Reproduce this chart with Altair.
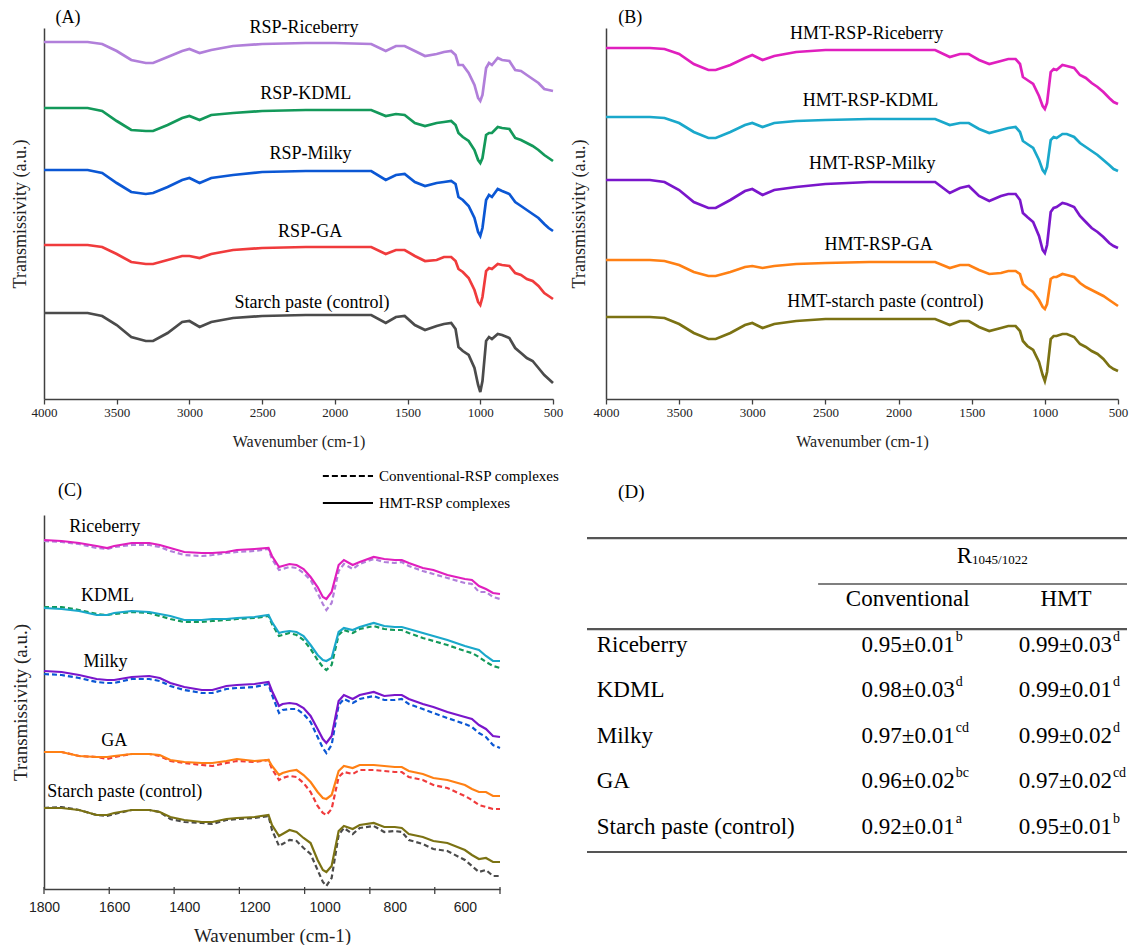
import altair as alt
import pandas as pd

SERIF = "Liberation Serif"
SANS = "Liberation Sans"

# ---------------- Panels A and B : full-range FTIR spectra ----------------
wn_full = [4000, 3700, 3600, 3500, 3400, 3300, 3250, 3150, 3050, 3000, 2930, 2850, 2700, 2500, 2200, 2000,
           1750, 1650, 1580, 1520, 1450, 1380, 1300, 1250, 1200, 1170, 1150, 1120, 1080, 1040, 1015, 1000,
           985, 960, 940, 920, 880, 850, 800, 760, 720, 680, 640, 600, 560, 530, 500]
full_ticks = [4000, 3500, 3000, 2500, 2000, 1500, 1000, 500]

# depth of each spectrum below its own starting level (a.u.)
a_riceberry = [0, 0, 2, 9, 18, 21, 21, 15, 9, 7, 11, 8, 4, 2, 1, 1,
               2, 9, 4, 4, 9, 14, 12, 10, 9, 13, 23, 23, 31, 43, 56, 59,
               53, 26, 21, 23, 16, 18, 19, 28, 29, 33, 37, 41, 47, 48, 49]
a_kdml = [0, 0, 3, 13, 22, 23, 23, 17, 10, 8, 12, 7, 5, 3, 2, 2,
          2, 8, 6, 7, 15, 18, 15, 14, 13, 17, 25, 29, 33, 42, 52, 55,
          50, 27, 25, 25, 19, 20, 21, 30, 32, 35, 38, 42, 47, 50, 53]
a_milky = [0, 0, 3, 13, 22, 24, 23, 17, 10, 8, 13, 8, 5, 2, 1, 1,
           1, 10, 5, 4, 12, 16, 13, 12, 11, 14, 27, 30, 36, 48, 62, 66,
           58, 30, 25, 27, 19, 21, 24, 32, 36, 40, 44, 48, 54, 58, 61]
a_ga = [0, 0, 2, 9, 17, 19, 19, 15, 11, 11, 13, 9, 5, 3, 2, 2,
        2, 9, 5, 5, 11, 16, 15, 12, 12, 16, 24, 27, 33, 45, 57, 60,
        52, 26, 23, 24, 19, 20, 21, 28, 30, 34, 36, 41, 48, 51, 54]
a_control = [0, 0, 3, 12, 24, 28, 28, 20, 9, 8, 14, 9, 5, 3, 2, 2,
             2, 10, 4, 3, 12, 17, 13, 11, 10, 16, 34, 38, 42, 55, 72, 79,
             68, 28, 24, 26, 21, 22, 25, 35, 40, 45, 48, 55, 62, 66, 70]

b_riceberry = [0, 0, 1, 6, 16, 22, 22, 17, 10, 7, 12, 8, 4, 2, 2, 2,
               2, 9, 6, 6, 12, 16, 13, 11, 11, 16, 29, 32, 36, 48, 58, 61,
               55, 24, 21, 22, 17, 18, 20, 27, 30, 35, 39, 44, 50, 54, 56]
b_kdml = [0, 0, 1, 6, 15, 21, 21, 15, 8, 6, 10, 6, 4, 3, 2, 2,
          2, 8, 6, 6, 12, 16, 13, 11, 10, 15, 24, 27, 31, 43, 53, 56,
          50, 23, 20, 21, 17, 17, 20, 26, 30, 34, 38, 43, 48, 52, 54]
b_milky = [0, 0, 2, 10, 22, 28, 28, 20, 11, 9, 15, 10, 7, 4, 2, 2,
           2, 13, 8, 6, 16, 21, 16, 14, 14, 20, 33, 37, 42, 56, 70, 73,
           65, 32, 28, 27, 23, 24, 27, 36, 42, 48, 52, 57, 63, 66, 68]
b_ga = [0, 0, 1, 5, 12, 16, 16, 12, 7, 6, 8, 6, 4, 3, 2, 2,
        2, 8, 5, 5, 10, 14, 13, 11, 11, 14, 24, 28, 32, 40, 47, 49,
        44, 19, 17, 17, 14, 15, 17, 23, 27, 30, 33, 36, 40, 43, 46]
b_control = [0, 0, 1, 7, 16, 22, 22, 16, 8, 6, 11, 7, 4, 2, 2, 2,
             2, 8, 4, 4, 10, 14, 11, 9, 9, 14, 24, 29, 33, 45, 58, 64,
             55, 22, 19, 19, 17, 17, 20, 27, 30, 34, 37, 42, 49, 52, 54]

a_names = ["RSP-Riceberry", "RSP-KDML", "RSP-Milky", "RSP-GA", "Starch paste (control)"]
a_offsets = [357, 291, 229, 154, 86]
a_colors = ["#B17FDA", "#13995A", "#0B57D4", "#F03B3C", "#4B4B4B"]
a_label_wn = [2212, 2200, 2167, 2170, 2157]
a_label_h = [371, 305, 245, 167, 96]

b_names = ["HMT-RSP-Riceberry", "HMT-RSP-KDML", "HMT-RSP-Milky", "HMT-RSP-GA", "HMT-starch paste (control)"]
b_offsets = [351, 282, 219, 139, 82]
b_colors = ["#E01FBE", "#1AA8CB", "#7A16CB", "#FF8014", "#7B7213"]
b_label_wn = [2218, 2192, 2180, 2136, 2090]
b_label_h = [365, 298, 235, 154, 97]

# panel tags (A)/(B) in data units of their panels
tag_full_wn = 3835
tag_full_h = 381

# ---------------- Panel C : fingerprint region ----------------
wn_zoom = [1800, 1750, 1700, 1650, 1620, 1600, 1550, 1500, 1470, 1440,
           1400, 1350, 1320, 1280, 1250, 1200, 1160, 1150, 1130, 1120,
           1100, 1080, 1060, 1040, 1020, 1005, 995, 980, 960, 945,
           920, 900, 860, 830, 800, 780, 760, 720, 690, 650,
           600, 580, 560, 540, 520, 500]
zoom_tick_labels = [1800, 1600, 1400, 1200, 1000, 800, 600]
zoom_tick_marks = [1800, 1614, 1429, 1243, 1057, 871, 686, 500]

c_samples = ["Riceberry", "KDML", "Milky", "GA", "Starch paste (control)"]
c_offsets = [349, 281, 218, 137, 81]
c_hmt = [
    [0, 1, 3, 6, 8, 6, 3, 3, 5, 8, 12, 13, 13, 12, 10, 9, 8, 16, 27, 26,
     24, 25, 29, 37, 47, 57, 59, 52, 25, 20, 25, 22, 17, 19, 20, 20, 23, 28, 30, 35,
     39, 40, 46, 49, 53, 54],
    [0, 1, 3, 7, 7, 5, 3, 4, 6, 8, 12, 12, 11, 11, 10, 9, 7, 14, 25, 24,
     23, 24, 28, 37, 47, 52, 53, 50, 24, 20, 22, 19, 15, 18, 19, 19, 21, 25, 28, 32,
     38, 40, 42, 48, 53, 53],
    [0, 1, 4, 8, 9, 9, 6, 5, 7, 12, 16, 19, 19, 15, 14, 13, 11, 20, 35, 33,
     32, 33, 37, 45, 58, 68, 72, 65, 30, 24, 28, 24, 21, 25, 24, 24, 28, 33, 36, 41,
     46, 48, 54, 58, 65, 66],
    [0, 0, 4, 5, 5, 4, 2, 2, 3, 8, 10, 11, 11, 9, 7, 9, 8, 14, 23, 21,
     19, 18, 23, 30, 40, 46, 47, 43, 19, 14, 16, 13, 13, 14, 15, 15, 19, 22, 26, 28,
     33, 37, 40, 40, 44, 44],
    [0, 0, 2, 7, 7, 5, 2, 2, 4, 9, 12, 14, 14, 11, 10, 9, 7, 17, 28, 26,
     22, 24, 30, 35, 52, 62, 64, 58, 23, 18, 21, 17, 15, 19, 19, 20, 26, 29, 33, 35,
     42, 47, 51, 50, 54, 54],
]
c_conv = [
    [1, 2, 4, 8, 9, 7, 5, 5, 7, 11, 15, 16, 15, 13, 12, 11, 9, 19, 30, 29,
     27, 28, 33, 40, 53, 64, 70, 63, 31, 24, 29, 24, 19, 22, 23, 22, 26, 31, 34, 38,
     43, 44, 52, 52, 57, 59],
    [-1, -1, 2, 6, 7, 6, 4, 5, 8, 11, 14, 14, 13, 12, 11, 10, 8, 16, 28, 27,
     25, 27, 32, 41, 52, 59, 62, 57, 27, 22, 25, 21, 18, 21, 22, 22, 25, 30, 33, 37,
     43, 45, 49, 54, 58, 60],
    [3, 4, 7, 11, 12, 12, 8, 8, 10, 15, 19, 22, 22, 18, 17, 16, 13, 24, 42, 39,
     38, 38, 43, 51, 66, 77, 82, 74, 34, 28, 32, 28, 25, 29, 29, 28, 33, 38, 42, 47,
     53, 56, 62, 66, 74, 77],
    [0, 0, 4, 5, 7, 5, 2, 2, 4, 9, 11, 13, 14, 11, 9, 10, 8, 17, 28, 26,
     24, 25, 31, 40, 54, 61, 63, 57, 25, 20, 22, 18, 18, 19, 20, 20, 25, 28, 33, 36,
     44, 48, 53, 55, 57, 57],
    [0, -1, 2, 7, 8, 6, 2, 2, 4, 11, 14, 15, 16, 12, 11, 10, 8, 22, 38, 36,
     32, 33, 40, 46, 62, 74, 78, 70, 27, 20, 26, 20, 18, 24, 23, 24, 32, 36, 41, 43,
     52, 58, 64, 62, 68, 68],
]
c_label_wn = [1627, 1619, 1625, 1600, 1570]
c_label_h = [362, 293, 227, 148, 97]
tag_c_wn = 1726
tag_c_h = 398

legend_labels = ["Conventional-RSP complexes", "HMT-RSP complexes"]
legend_dash = [[6, 3], [1, 0]]
legend_wn_start = [1005, 1005]
legend_wn_end = [862, 862]
legend_text_wn = [845, 845]
legend_h = [413, 386]

# ---------------- Panel D : R1045/1022 table ----------------
samples = ["Riceberry", "KDML", "Milky", "GA", "Starch paste (control)"]
conv_vals = ["0.95±0.01", "0.98±0.03", "0.97±0.01", "0.96±0.02", "0.92±0.01"]
conv_sup = ["b", "d", "cd", "bc", "a"]
hmt_vals = ["0.99±0.03", "0.99±0.01", "0.99±0.02", "0.97±0.02", "0.95±0.01"]
hmt_sup = ["d", "d", "d", "cd", "b"]


def spectra_frame(wn, names, offsets, colors, depth_lists):
    recs = []
    for name, off, col, depths in zip(names, offsets, colors, depth_lists):
        for w, d in zip(wn, depths):
            recs.append({"wn": w, "y": off - d, "series": name, "col": col})
    return pd.DataFrame(recs)


def full_panel(df, lab_names, lab_wn, lab_h, tag, width, height, tpad):
    xs = alt.Scale(domain=[500, 4000], reverse=True, nice=False, zero=False)
    ys = alt.Scale(domain=[0, height], nice=False, zero=False)
    xax = alt.Axis(values=full_ticks, format="d", title="Wavenumber (cm-1)", labelFont=SERIF,
                   labelFontSize=13, titleFont=SERIF, titleFontSize=16, tickSize=5, labelPadding=2,
                   titlePadding=14, labelFlush=False)
    yax = alt.Axis(title="Transmissivity (a.u.)", labels=False, ticks=False, titleFont=SERIF,
                   titleFontSize=18, titlePadding=tpad)
    lines = alt.Chart(df).mark_line(strokeWidth=2.7).encode(
        x=alt.X("wn:Q", scale=xs, axis=xax),
        y=alt.Y("y:Q", scale=ys, axis=yax),
        detail="series:N",
        color=alt.Color("col:N", scale=None),
    )
    lab_df = pd.DataFrame({"label": lab_names, "wn": lab_wn, "y": lab_h})
    text = alt.Chart(lab_df).mark_text(font=SERIF, fontSize=18, color="black", baseline="middle").encode(
        x=alt.X("wn:Q", scale=xs), y=alt.Y("y:Q", scale=ys), text="label:N")
    tag_df = pd.DataFrame({"label": [tag], "wn": [tag_full_wn], "y": [tag_full_h]})
    tag_text = alt.Chart(tag_df).mark_text(font=SERIF, fontSize=18, color="black", baseline="middle").encode(
        x=alt.X("wn:Q", scale=xs), y=alt.Y("y:Q", scale=ys), text="label:N")
    return alt.layer(lines, text, tag_text).properties(width=width, height=height)


df_a = spectra_frame(wn_full, a_names, a_offsets, a_colors, [a_riceberry, a_kdml, a_milky, a_ga, a_control])
df_b = spectra_frame(wn_full, b_names, b_offsets, b_colors, [b_riceberry, b_kdml, b_milky, b_ga, b_control])

panel_a = full_panel(df_a, a_names, a_label_wn, a_label_h, "(A)", 509, 371, 15)
panel_b = full_panel(df_b, b_names, b_label_wn, b_label_h, "(B)", 512, 371, 18)

# ---- panel C
C_W, C_H = 456, 374
conv_names = [s + " conventional" for s in c_samples]
hmt_names = [s + " HMT" for s in c_samples]
df_c_conv = spectra_frame(wn_zoom, conv_names, c_offsets, a_colors, c_conv)
df_c_hmt = spectra_frame(wn_zoom, hmt_names, c_offsets, b_colors, c_hmt)
xs_c = alt.Scale(domain=[500, 1800], reverse=True, nice=False, zero=False)
ys_c = alt.Scale(domain=[0, C_H], nice=False, zero=False)
xax_c = alt.Axis(values=zoom_tick_labels, format="d", ticks=False, labelFont=SANS, labelFontSize=14,
                 labelPadding=11, title="Wavenumber (cm-1)", titleFont=SERIF, titleFontSize=19,
                 titlePadding=12, labelFlush=False)
yax_c = alt.Axis(title="Transmissivity (a.u.)", labels=False, ticks=False, titleFont=SERIF,
                 titleFontSize=19, titlePadding=14)

c_conv_layer = alt.Chart(df_c_conv).mark_line(strokeWidth=2.2, strokeDash=[5, 3]).encode(
    x=alt.X("wn:Q", scale=xs_c, axis=xax_c), y=alt.Y("y:Q", scale=ys_c, axis=yax_c),
    detail="series:N", color=alt.Color("col:N", scale=None))
c_hmt_layer = alt.Chart(df_c_hmt).mark_line(strokeWidth=2.2).encode(
    x=alt.X("wn:Q", scale=xs_c), y=alt.Y("y:Q", scale=ys_c),
    detail="series:N", color=alt.Color("col:N", scale=None))
c_ticks = alt.Chart(pd.DataFrame({"wn": zoom_tick_marks})).mark_rule(color="#404040", strokeWidth=1.3).encode(
    x=alt.X("wn:Q", scale=xs_c), y=alt.value(C_H - 2), y2=alt.value(C_H + 5))
c_lab = alt.Chart(pd.DataFrame({"label": c_samples, "wn": c_label_wn, "y": c_label_h})).mark_text(
    font=SERIF, fontSize=18, color="black", baseline="middle").encode(
    x=alt.X("wn:Q", scale=xs_c), y=alt.Y("y:Q", scale=ys_c), text="label:N")
c_tag = alt.Chart(pd.DataFrame({"label": ["(C)"], "wn": [tag_c_wn], "y": [tag_c_h]})).mark_text(
    font=SERIF, fontSize=18, color="black", baseline="middle").encode(
    x=alt.X("wn:Q", scale=xs_c), y=alt.Y("y:Q", scale=ys_c), text="label:N")
leg_df = pd.DataFrame({"label": legend_labels, "x1": legend_wn_start, "x2": legend_wn_end,
                       "tx": legend_text_wn, "y": legend_h})
c_leg_lines = alt.Chart(leg_df).mark_rule(color="black", strokeWidth=1.8).encode(
    x=alt.X("x1:Q", scale=xs_c), x2="x2:Q", y=alt.Y("y:Q", scale=ys_c),
    strokeDash=alt.StrokeDash("label:N", scale=alt.Scale(domain=legend_labels, range=legend_dash), legend=None))
c_leg_text = alt.Chart(leg_df).mark_text(font=SERIF, fontSize=15, align="left", baseline="middle",
                                         color="black").encode(
    x=alt.X("tx:Q", scale=xs_c), y=alt.Y("y:Q", scale=ys_c), text="label:N")

panel_c = alt.layer(c_conv_layer, c_hmt_layer, c_ticks, c_lab, c_tag, c_leg_lines, c_leg_text).properties(
    width=C_W, height=C_H)

# ---- panel D (table)
D_W = 540
xs_d = alt.Scale(domain=[0, 1], nice=False, zero=False)
ys_d = alt.Scale(domain=[-2.857, 5.363], reverse=True, nice=False, zero=False)
rows = list(range(len(samples)))
tbl = pd.DataFrame({"sample": samples, "conv": conv_vals, "conv_sup": conv_sup,
                    "hmt": hmt_vals, "hmt_sup": hmt_sup, "row": rows,
                    "x_lab": [0.018] * 5, "x_conv": [0.681] * 5, "x_hmt": [0.972] * 5})


def XD(f):
    return alt.X(f, scale=xs_d, axis=None)


def YD(f):
    return alt.Y(f, scale=ys_d, axis=None)


tbl_base = alt.Chart(tbl)
t_samples = tbl_base.mark_text(font=SERIF, fontSize=23, align="left", baseline="middle").encode(
    x=XD("x_lab:Q"), y=YD("row:Q"), text="sample:N")
t_conv = tbl_base.mark_text(font=SERIF, fontSize=23, align="right", baseline="middle").encode(
    x=XD("x_conv:Q"), y=YD("row:Q"), text="conv:N")
t_conv_sup = tbl_base.mark_text(font=SERIF, fontSize=14, align="left", baseline="middle", dx=1, dy=-8).encode(
    x=XD("x_conv:Q"), y=YD("row:Q"), text="conv_sup:N")
t_hmt = tbl_base.mark_text(font=SERIF, fontSize=23, align="right", baseline="middle").encode(
    x=XD("x_hmt:Q"), y=YD("row:Q"), text="hmt:N")
t_hmt_sup = tbl_base.mark_text(font=SERIF, fontSize=14, align="left", baseline="middle", dx=1, dy=-8).encode(
    x=XD("x_hmt:Q"), y=YD("row:Q"), text="hmt_sup:N")

header_text = ["Conventional", "HMT"]
header_x = [0.594, 0.887]
header_row = [-1, -1]
t_head = alt.Chart(pd.DataFrame({"t": header_text, "x": header_x, "row": header_row})).mark_text(
    font=SERIF, fontSize=23, align="center", baseline="middle").encode(
    x=XD("x:Q"), y=YD("row:Q"), text="t:N")
ratio_main = ["R"]
ratio_sub = ["1045/1022"]
ratio_x = [0.713]
ratio_row = [-1.96]
t_r = alt.Chart(pd.DataFrame({"t": ratio_main, "x": ratio_x, "row": ratio_row})).mark_text(
    font=SERIF, fontSize=23, align="right", baseline="middle").encode(x=XD("x:Q"), y=YD("row:Q"), text="t:N")
t_rsub = alt.Chart(pd.DataFrame({"t": ratio_sub, "x": ratio_x, "row": ratio_row})).mark_text(
    font=SERIF, fontSize=13, align="left", baseline="middle", dy=4).encode(x=XD("x:Q"), y=YD("row:Q"), text="t:N")
tag_d = alt.Chart(pd.DataFrame({"t": ["(D)"], "x": [0.082], "row": [-3.36]})).mark_text(
    font=SERIF, fontSize=19, align="center", baseline="middle").encode(x=XD("x:Q"), y=YD("row:Q"), text="t:N")

rule_x1 = [0.0, 0.428, 0.0, 0.0]
rule_x2 = [1.0, 1.0, 1.0, 1.0]
rule_row = [-2.35, -1.34, -0.35, 4.55]
rule_w = [2.2, 1.5, 2.2, 2.2]
t_rules = alt.Chart(pd.DataFrame({"x1": rule_x1, "x2": rule_x2, "row": rule_row, "w": rule_w})).mark_rule(
    color="#555555").encode(x=XD("x1:Q"), x2="x2:Q", y=YD("row:Q"),
                            strokeWidth=alt.StrokeWidth("w:Q", scale=None))

panel_d = alt.layer(t_rules, t_samples, t_conv, t_conv_sup, t_hmt, t_hmt_sup, t_head, t_r, t_rsub,
                    tag_d).properties(width=D_W, height=C_H)

row1 = alt.hconcat(panel_a, panel_b, spacing=7)
row2 = alt.hconcat(panel_c, panel_d, spacing=25)

chart = alt.vconcat(row1, row2, spacing=20).properties(
    padding={"left": 3, "top": 0, "right": 0, "bottom": 0}
).configure_view(stroke=None).configure_axis(
    domainColor="#404040", domainWidth=1.5, tickColor="#404040", tickWidth=1.3, grid=False,
    labelColor="#222222", titleColor="#222222", titleFontWeight="normal"
)

chart.save("out.html", embed_options={"renderer": "svg", "actions": False})
